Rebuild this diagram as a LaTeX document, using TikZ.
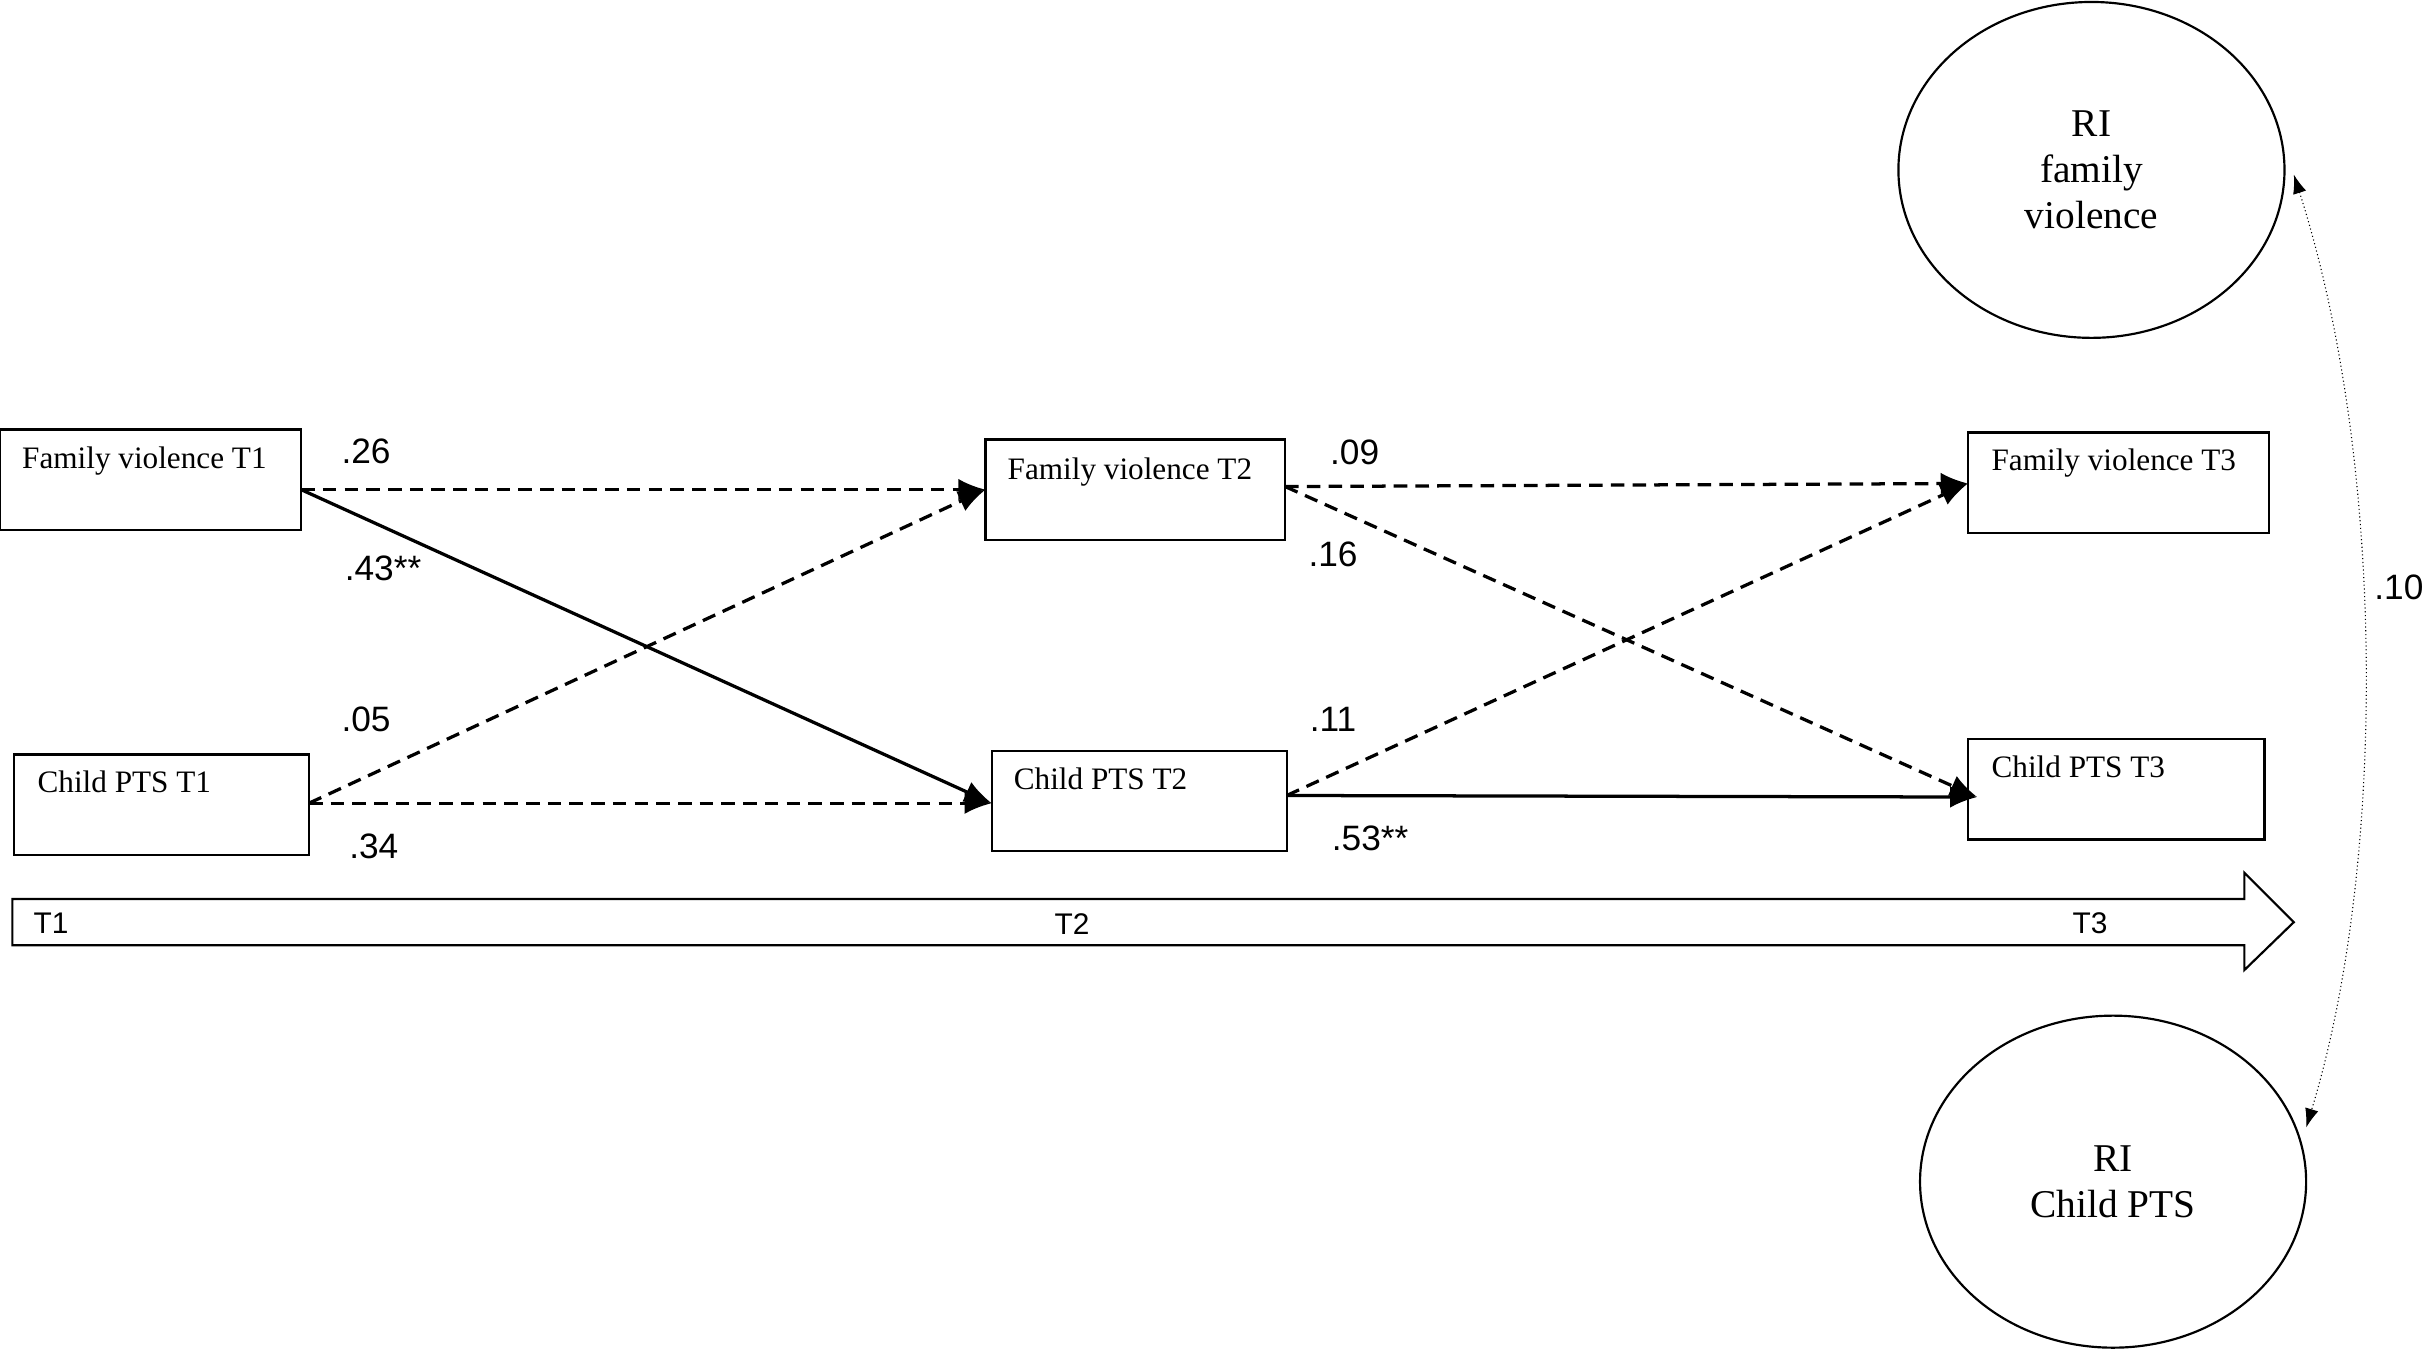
\documentclass[tikz,border=0pt]{standalone}
\usepackage{fontspec}
\setmainfont{Liberation Serif}
\newfontfamily\numf{Liberation Sans}
\usetikzlibrary{arrows.meta,shapes.geometric}
\begin{document}
\begin{tikzpicture}[x=0.02cm,y=-0.02cm,
 box/.style={draw,thick,rectangle,minimum width=3.9cm,minimum height=1.3cm,inner sep=0pt},
 btxt/.style={font=\fontsize{11.5}{13}\selectfont,anchor=north west,inner sep=0pt},
 ell/.style={draw,thick,ellipse,minimum width=5cm,minimum height=4.35cm,align=center,font=\fontsize{14.5}{17}\selectfont},
 num/.style={font=\numf\fontsize{13}{15}\selectfont},
 dsh/.style={line width=1.2pt,dash pattern=on 5pt off 3pt,-{Latex[length=10pt,width=8pt]}},
 sol/.style={line width=1.2pt,-{Latex[length=10pt,width=8pt]}}]
\useasboundingbox (0,0) rectangle (1568,875);
\node[box] (fv1) at (97.5,310.5) {};
\node[box,minimum width=3.82cm] (c1) at (104.5,521) {};
\node[box,minimum width=3.88cm] (fv2) at (735,317) {};
\node[box,minimum width=3.82cm] (c2) at (737.5,518.5) {};
\node[box,minimum width=3.9cm] (fv3) at (1371.5,312.5) {};
\node[box,minimum width=3.84cm] (c3) at (1370,511) {};
\node[btxt] at (14,289) {Family violence T1};
\node[btxt] at (24,499) {Child PTS T1};
\node[btxt] at (652,296) {Family violence T2};
\node[btxt] at (656,497) {Child PTS T2};
\node[btxt] at (1289,290) {Family violence T3};
\node[btxt] at (1289,489) {Child PTS T3};
\node[ell] (r1) at (1354,110) {RI\\family\\violence};
\node[ell,minimum height=4.3cm] (r2) at (1368,765) {RI\\Child PTS};
% big arrow
\draw[thick] (8,582) -- (1453,582) -- (1453,565) -- (1485,597) -- (1453,628) -- (1453,612) -- (8,612) -- cycle;
\node[font=\numf\fontsize{11}{13}\selectfont] at (33,598) {T1};
\node[font=\numf\fontsize{11}{13}\selectfont] at (694,598) {T2};
\node[font=\numf\fontsize{11}{13}\selectfont] at (1353,598) {T3};
% paths
\coordinate (a1) at (195,317); \coordinate (a2) at (200,520);
\coordinate (b1) at (638,317); \coordinate (b2) at (642,520);
\coordinate (o1) at (832,315); \coordinate (o2) at (833,515);
\coordinate (e1) at (1274,313); \coordinate (e2) at (1280,516);
\draw[dsh] (a1) -- (b1);
\draw[sol] (a1) -- (b2);
\draw[dsh] (a2) -- (b1);
\draw[dsh] (a2) -- (b2);
\draw[dsh] (o1) -- (e1);
\draw[dsh] (o1) -- (e2);
\draw[dsh] (o2) -- (e1);
\draw[sol] (o2) -- (e2);
\coordinate (p1) at (1485,113); \coordinate (p2) at (1493,730);
\draw[densely dotted,{Latex[length=7pt,width=5pt]}-{Latex[length=7pt,width=5pt]}] (p1) .. controls (1545,300) and (1545,560) .. (p2);
\node[num] at (237,292) {.26};
\node[num] at (248,368) {.43**};
\node[num] at (237,466) {.05};
\node[num] at (242,548) {.34};
\node[num] at (877,293) {.09};
\node[num] at (863,359) {.16};
\node[num] at (863,466) {.11};
\node[num] at (887,543) {.53**};
\node[num] at (1553,380) {.10};
\end{tikzpicture}
\end{document}
